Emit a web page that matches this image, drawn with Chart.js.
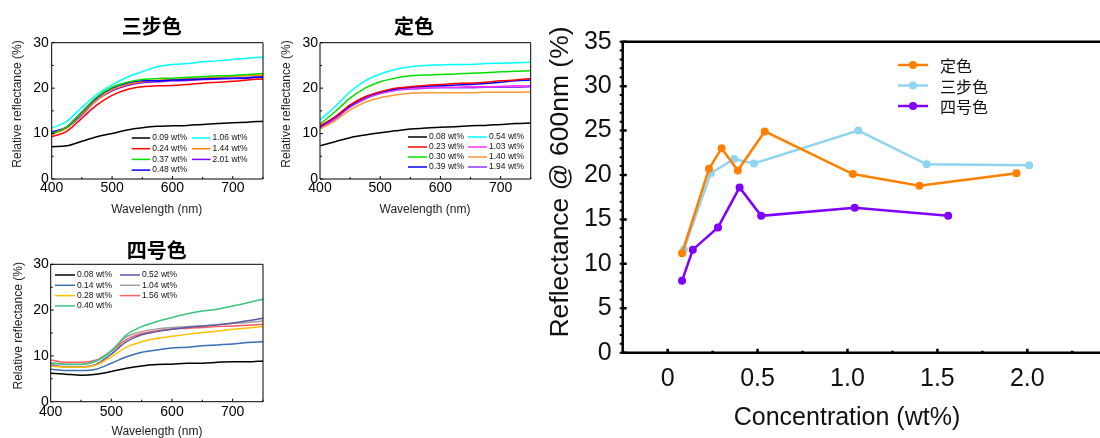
<!DOCTYPE html>
<html><head><meta charset="utf-8">
<script src="https://cdn.jsdelivr.net/npm/chart.js@4.4.1/dist/chart.umd.min.js"></script>
<style>
html,body{margin:0;padding:0;background:#fff;width:1100px;height:438px;overflow:hidden;position:relative}
canvas{position:absolute}
</style></head><body>
<canvas id="c1" width="270" height="220" style="left:0;top:0"></canvas>
<canvas id="c2" width="270" height="220" style="left:270px;top:0"></canvas>
<canvas id="c3" width="270" height="208" style="left:0;top:230px"></canvas>
<canvas id="c4" width="560" height="438" style="left:540px;top:0"></canvas>
<script>
// ---------- data ----------
const wavelengths = [400,425,450,475,500,525,550,575,600,625,650,675,700,725,750];
const specXTicks = [400,500,600,700];
const specXTickLabels = ['400','500','600','700'];
const specYTicks = [0,10,20,30];
const specYTickLabels = ['0','10','20','30'];

// 三步色
const sanbuLabels = ['0.09 wt%','0.24 wt%','0.37 wt%','0.48 wt%','1.06 wt%','1.44 wt%','2.01 wt%'];
const sanbu009 = [7.1,7.3,8.3,9.3,10.0,10.8,11.3,11.6,11.7,11.8,12.0,12.2,12.4,12.5,12.7];
const sanbu024 = [9.3,10.5,13.4,16.3,18.4,19.7,20.3,20.5,20.6,20.8,21.1,21.3,21.5,21.8,22.0];
const sanbu037 = [10.0,11.5,14.8,18.1,20.2,21.3,21.9,22.1,22.2,22.4,22.5,22.7,22.8,23.0,23.2];
const sanbu048 = [10.2,11.5,14.7,17.9,20.0,21.1,21.6,21.6,21.8,21.9,22.0,22.1,22.2,22.3,22.5];
const sanbu106 = [11.2,12.7,15.8,18.6,20.7,22.4,23.6,24.7,25.2,25.4,25.8,26.0,26.3,26.6,26.8];
const sanbu144 = [9.8,11.2,14.3,17.4,19.6,20.8,21.4,21.7,21.9,22.1,22.2,22.4,22.6,22.7,22.9];
const sanbu201 = [10.4,11.3,14.1,17.4,19.4,20.6,21.2,21.4,21.6,21.7,21.9,22.0,22.1,22.2,22.4];

// 定色
const teiseLabels = ['0.08 wt%','0.23 wt%','0.30 wt%','0.39 wt%','0.54 wt%','1.03 wt%','1.40 wt%','1.94 wt%'];
const teise008 = [7.3,8.2,9.1,9.7,10.2,10.6,11.0,11.2,11.4,11.5,11.7,11.8,12.0,12.2,12.3];
const teise023 = [11.7,13.7,16.3,18.1,19.2,20.0,20.3,20.6,20.8,21.0,21.1,21.3,21.6,21.8,22.1];
const teise030 = [12.1,14.8,17.8,20.0,21.4,22.2,22.7,22.9,23.0,23.1,23.3,23.4,23.6,23.7,23.8];
const teise039 = [11.5,13.6,16.1,18.0,19.1,19.8,20.2,20.4,20.5,20.7,20.8,21.0,21.3,21.6,21.8];
const teise054 = [13.0,15.9,19.2,21.6,23.1,24.1,24.7,25.0,25.1,25.2,25.2,25.4,25.5,25.6,25.7];
const teise103 = [11.4,13.4,16.0,17.8,18.9,19.6,20.0,20.1,20.2,20.2,20.3,20.3,20.4,20.5,20.5];
const teise140 = [11.0,12.8,15.2,16.9,17.9,18.5,18.9,19.0,19.0,19.0,19.0,19.1,19.1,19.1,19.2];
const teise194 = [11.2,13.2,15.8,17.6,18.8,19.5,19.8,20.0,20.1,20.1,20.1,20.2,20.2,20.2,20.3];

// 四号色
const yonLabels = ['0.08 wt%','0.14 wt%','0.28 wt%','0.40 wt%','0.52 wt%','1.04 wt%','1.56 wt%'];
const yon008 = [6.2,6.0,5.8,6.0,6.6,7.3,7.8,8.1,8.2,8.4,8.4,8.6,8.7,8.7,8.9];
const yon014 = [7.1,6.8,6.8,7.1,8.4,9.8,10.8,11.3,11.7,11.9,12.2,12.4,12.6,12.9,13.1];
const yon028 = [7.8,7.5,7.5,8.0,9.8,11.9,13.1,13.8,14.3,14.7,15.1,15.4,15.8,16.1,16.4];
const yon040 = [8.5,8.2,8.2,8.9,11.0,14.6,16.4,17.5,18.4,19.2,19.8,20.2,20.9,21.6,22.4];
const yon052 = [8.0,7.6,7.6,8.2,10.4,13.1,14.6,15.3,15.8,16.2,16.5,16.8,17.2,17.7,18.2];
const yon104 = [8.4,8.1,8.1,8.9,11.2,14.2,15.3,15.9,16.2,16.4,16.6,16.8,17.1,17.3,17.6];
const yon156 = [9.1,8.6,8.6,9.1,11.0,13.6,14.9,15.5,15.9,16.0,16.2,16.4,16.5,16.7,16.9];

// Reflectance @ 600nm vs concentration
const seriesNames = ['定色','三步色','四号色'];
const concTeise = [0.08,0.23,0.30,0.39,0.54,1.03,1.40,1.94];
const reflTeise = [11.2,20.7,23.0,20.5,24.9,20.1,18.8,20.2];
const concSanbu = [0.09,0.24,0.37,0.48,1.06,1.44,2.01];
const reflSanbu = [11.6,20.2,21.8,21.3,25.0,21.2,21.1];
const concYon = [0.08,0.14,0.28,0.40,0.52,1.04,1.56];
const reflYon = [8.1,11.6,14.1,18.6,15.4,16.3,15.4];
const concTicks = [0,0.5,1.0,1.5,2.0];
const concTickLabels = ['0','0.5','1.0','1.5','2.0'];
const reflTicks = [0,5,10,15,20,25,30,35];
const reflTickLabels = ['0','5','10','15','20','25','30','35'];

// ---------- styles ----------
const LAT = '"Liberation Sans", Arial, sans-serif';
const NAR = '"Liberation Sans Narrow", "Liberation Sans", Arial, sans-serif';
const CJK = '"Noto Sans CJK SC", "Noto Sans CJK JP", sans-serif';

function range(a, b, s){ const r=[]; for(let v=a; v<=b+1e-9; v+=s) r.push(+v.toFixed(4)); return r; }

const decor = {
  id: 'decor',
  afterDraw(chart, args, o) {
    const ctx = chart.ctx, a = chart.chartArea;
    const sx = chart.scales.x, sy = chart.scales.y;
    ctx.save();
    ctx.strokeStyle = '#000';
    ctx.lineWidth = o.lw;
    ctx.lineCap = 'butt';
    // frame
    ctx.beginPath();
    if (o.ext) {
      ctx.moveTo(o.ext, a.top); ctx.lineTo(a.left, a.top); ctx.lineTo(a.left, a.bottom); ctx.lineTo(o.ext, a.bottom);
    } else {
      ctx.rect(a.left, a.top, a.right - a.left, a.bottom - a.top);
    }
    ctx.stroke();
    // ticks
    (o.ticks || []).forEach(t => {
      ctx.lineWidth = t.w || o.lw;
      ctx.beginPath();
      t.values.forEach(v => {
        if (t.axis === 'x') {
          const px = sx.getPixelForValue(v);
          if (px < a.left + 1) return;
          ctx.moveTo(px, a.bottom); ctx.lineTo(px, a.bottom + (t.dir === 'in' ? -t.len : t.len));
        } else {
          const py = sy.getPixelForValue(v);
          ctx.moveTo(a.left, py); ctx.lineTo(a.left + (t.dir === 'in' ? t.len : -t.len), py);
        }
      });
      ctx.stroke();
    });
    // legend
    const L = o.legend;
    if (L) {
      chart.data.datasets.forEach((ds, i) => {
        const col = Math.floor(i / L.perCol), row = i % L.perCol;
        const x = L.cols[col], y = L.y0 + row * L.rowH;
        ctx.strokeStyle = ds.borderColor; ctx.lineWidth = L.lw;
        ctx.beginPath(); ctx.moveTo(x, y); ctx.lineTo(x + L.len, y); ctx.stroke();
        if (L.marker) {
          ctx.fillStyle = ds.borderColor;
          ctx.beginPath(); ctx.arc(x + L.len / 2, y, L.marker, 0, Math.PI * 2); ctx.fill();
        }
        ctx.fillStyle = L.color || '#000';
        ctx.font = L.font;
        ctx.textAlign = 'left'; ctx.textBaseline = 'middle';
        ctx.fillText(ds.label, x + L.len + L.gap, y + (L.dy || 0));
      });
    }
    // texts
    (o.texts || []).forEach(t => {
      ctx.save();
      ctx.translate(t.x, t.y);
      if (t.rot) ctx.rotate(t.rot);
      ctx.font = t.font; ctx.fillStyle = t.color || '#000';
      ctx.textAlign = 'center'; ctx.textBaseline = 'middle';
      ctx.fillText(t.text, 0, 0);
      ctx.restore();
    });
    ctx.restore();
  }
};

function specChart(id, labels, series, colors, cfg) {
  new Chart(document.getElementById(id), {
    type: 'line',
    data: {
      datasets: series.map((s, i) => ({
        label: labels[i],
        data: wavelengths.map((w, j) => ({x: w, y: s[j]})),
        borderColor: colors[i], backgroundColor: colors[i],
        borderWidth: 1.5, pointRadius: 0, cubicInterpolationMode: 'monotone', fill: false
      }))
    },
    options: {
      responsive: false, animation: false, events: [],
      layout: {padding: {left: 0, right: cfg.padR, top: cfg.top, bottom: 0}},
      plugins: {
        legend: {display: false}, tooltip: {enabled: false}, title: {display: false},
        decor: {
          lw: 1,
          ticks: [
            {axis: 'x', values: range(400, 750, 100), len: 3, dir: 'in'},
            {axis: 'x', values: range(450, 750, 100), len: 2, dir: 'in'},
            {axis: 'y', values: range(0, 30, 10), len: 3, dir: 'in'},
            {axis: 'y', values: range(5, 30, 10), len: 2, dir: 'in'}
          ],
          legend: {cols: cfg.legCols, perCol: 4, y0: cfg.legY0, rowH: cfg.legRowH, len: cfg.legLen, gap: 2, lw: 1.5,
                   font: '8.5px ' + LAT, color: '#111'},
          texts: [
            {text: cfg.title, x: cfg.titleX, y: cfg.titleY, font: 'bold 20px ' + CJK},
            {text: 'Relative reflectance (%)', x: cfg.yTitleX, y: cfg.yTitleY, rot: -Math.PI / 2, font: '12px ' + LAT, color: '#222'},
            {text: 'Wavelength (nm)', x: cfg.xTitleX, y: cfg.xTitleY, font: '12px ' + LAT, color: '#222'}
          ]
        }
      },
      scales: {
        x: {
          type: 'linear', min: 400, max: 750,
          afterBuildTicks: s => { s.ticks = specXTicks.map(v => ({value: v})); },
          afterFit: s => { s.height = cfg.xh; },
          grid: {display: false, drawTicks: false}, border: {display: false},
          ticks: {font: {family: LAT, size: 14}, color: '#000', padding: cfg.xPad, maxRotation: 0, autoSkip: false,
                  callback: (v, i) => specXTickLabels[i]}
        },
        y: {
          type: 'linear', min: 0, max: 30,
          afterBuildTicks: s => { s.ticks = specYTicks.map(v => ({value: v})); },
          afterFit: s => { s.width = cfg.yw; },
          grid: {display: false, drawTicks: false}, border: {display: false},
          ticks: {font: {family: LAT, size: 14}, color: '#000', padding: cfg.yPad, autoSkip: false,
                  callback: (v, i) => specYTickLabels[i]}
        }
      }
    },
    plugins: [decor]
  });
}

specChart('c1', sanbuLabels,
  [sanbu009, sanbu024, sanbu037, sanbu048, sanbu106, sanbu144, sanbu201],
  ['#000000', '#ff0000', '#00e000', '#0000ff', '#00ffff', '#ff8000', '#8000ff'],
  {padR: 7, top: 42.7, xh: 41, yw: 51.7, xPad: 1, yPad: 3,
   legCols: [131.7, 192], legY0: 138, legRowH: 10.7, legLen: 18.5,
   title: '三步色', titleX: 151.7, titleY: 26.7, yTitleX: 18, yTitleY: 104, xTitleX: 156.7, xTitleY: 210});

specChart('c2', teiseLabels,
  [teise008, teise023, teise030, teise039, teise054, teise103, teise140, teise194],
  ['#000000', '#ff0000', '#00e000', '#0000ff', '#00ffff', '#ff33ff', '#ff9933', '#9933ff'],
  {padR: 9.3, top: 42.7, xh: 41, yw: 50, xPad: 1, yPad: 2,
   legCols: [138, 198], legY0: 137, legRowH: 10, legLen: 19,
   title: '定色', titleX: 144, titleY: 26.2, yTitleX: 16.7, yTitleY: 104, xTitleX: 155, xTitleY: 210});

specChart('c3', yonLabels,
  [yon008, yon014, yon028, yon040, yon052, yon104, yon156],
  ['#000000', '#3a6eb5', '#ffc000', '#3cc47c', '#5a5aa8', '#a0a0a0', '#ff5f5f'],
  {padR: 7, top: 34.3, xh: 36.3, yw: 50.7, xPad: 1.6, yPad: 2,
   legCols: [55, 120], legY0: 45, legRowH: 10.3, legLen: 20,
   title: '四号色', titleX: 156.7, titleY: 20, yTitleX: 19, yTitleY: 95.8, xTitleX: 157, xTitleY: 201.7});

// ---------- concentration chart ----------
const concColors = ['#ff8000', '#8fd4f0', '#8000ff'];
const concSeries = [[concTeise, reflTeise], [concSanbu, reflSanbu], [concYon, reflYon]];
new Chart(document.getElementById('c4'), {
  type: 'line',
  data: {
    datasets: concSeries.map((s, i) => ({
      label: seriesNames[i],
      data: s[0].map((c, j) => ({x: c, y: s[1][j]})),
      borderColor: concColors[i], backgroundColor: concColors[i],
      pointBackgroundColor: concColors[i], pointBorderColor: concColors[i],
      borderWidth: 2.5, pointRadius: 4, pointBorderWidth: 0, tension: 0, fill: false
    }))
  },
  options: {
    responsive: false, animation: false, events: [],
    layout: {padding: {left: 0, right: 29, top: 41.7, bottom: 0}},
    plugins: {
      legend: {display: false}, tooltip: {enabled: false}, title: {display: false},
      decor: {
        lw: 2.5, ext: 560,
        ticks: [
          {axis: 'x', values: range(0, 2.25, 0.5), len: 4, dir: 'in'},
          {axis: 'x', values: range(0.25, 2.25, 0.5), len: 2, dir: 'in'},
          {axis: 'y', values: range(0, 35, 5), len: 4, dir: 'in'},
          {axis: 'y', values: range(0, 35, 1), len: 3, dir: 'out', w: 2}
        ],
        legend: {cols: [358], perCol: 3, y0: 65, rowH: 20.5, len: 30, gap: 12, lw: 2.5, marker: 4,
                 font: '16px ' + CJK, color: '#111', dy: 1},
        texts: [
          {text: 'Reflectance @ 600nm (%)', x: 21, y: 182, rot: -Math.PI / 2, font: '26.5px ' + LAT, color: '#111'},
          {text: 'Concentration (wt%)', x: 307, y: 418, font: '25px ' + LAT, color: '#111'}
        ]
      }
    },
    scales: {
      x: {
        type: 'linear', min: -0.25, max: 2.243,
        afterBuildTicks: s => { s.ticks = concTicks.map(v => ({value: v})); },
        afterFit: s => { s.height = 85.3; },
        grid: {display: false, drawTicks: false}, border: {display: false},
        ticks: {font: {family: NAR, size: 25}, color: '#111', padding: 11.2, maxRotation: 0, autoSkip: false,
                callback: (v, i) => concTickLabels[i]}
      },
      y: {
        type: 'linear', min: 0, max: 35,
        afterBuildTicks: s => { s.ticks = reflTicks.map(v => ({value: v})); },
        afterFit: s => { s.width = 82.7; },
        grid: {display: false, drawTicks: false}, border: {display: false},
        ticks: {font: {family: NAR, size: 25}, color: '#111', padding: 11, autoSkip: false,
                callback: (v, i) => reflTickLabels[i]}
      }
    }
  },
  plugins: [decor]
});
</script>
</body></html>
